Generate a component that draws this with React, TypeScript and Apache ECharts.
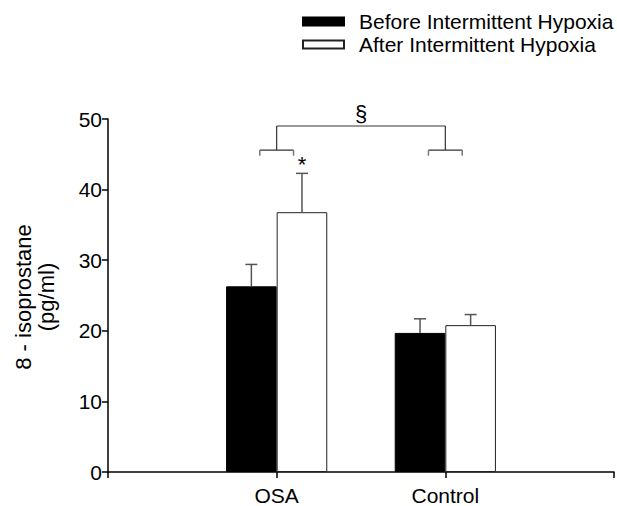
import React, { useEffect, useRef } from "react";
import * as echarts from "echarts";

const categories = ["", "OSA", "Control", ""];
const seriesNames = ["Before Intermittent Hypoxia", "After Intermittent Hypoxia"];
const beforeMeans = [null, 26.3, 19.7, null];
const beforeErr = [null, 3.1, 2.0, null];
const afterMeans = [null, 36.8, 20.8, null];
const afterErr = [null, 5.5, 1.5, null];
const yTicks = { min: 0, max: 50, interval: 10 };
// bracket annotation (data units): groups compared, levels
const bracketGroups = [1, 2];
const bracketTop = 49;
const bracketMid = 45.6;
const bracketLow = 44.8;
const starValue = { x: 1, y: 43.6 };
const sectionValue = 50.8;

const FONT = "'Liberation Sans', Arial, sans-serif";

export default function App() {
  const ref = useRef<HTMLDivElement>(null);
  useEffect(() => {
    if (!ref.current) return;
    const chart = echarts.init(ref.current, undefined, { renderer: "svg" });

    const errData = (means: (number | null)[], errs: (number | null)[]) =>
      means
        .map((m, i) => (m == null ? null : [i, m, errs[i] as number]))
        .filter((d) => d != null);

    const errSeries = (name: string, means: any, errs: any, side: number) => ({
      type: "custom",
      name: name + "_err",
      z: 3,
      renderItem: (params: any, api: any) => {
        const x = api.value(0);
        const m = api.value(1);
        const e = api.value(2);
        const bw = api.size([1, 0])[0];
        const off = side * bw * 0.15;
        const base = api.coord([x, m]);
        const top = api.coord([x, m + e]);
        const cap = 6;
        const style = { stroke: "#555", lineWidth: 1.5 };
        return {
          type: "group",
          children: [
            { type: "line", shape: { x1: base[0] + off, y1: base[1], x2: top[0] + off, y2: top[1] }, style },
            { type: "line", shape: { x1: top[0] + off - cap, y1: top[1], x2: top[0] + off + cap, y2: top[1] }, style },
          ],
        };
      },
      data: errData(means, errs),
      silent: true,
    });

    const bracketSeries = {
      type: "custom",
      name: "brackets",
      z: 4,
      silent: true,
      renderItem: (params: any, api: any) => {
        if (params.dataIndex !== 0) return null;
        const bw = api.size([1, 0])[0];
        const a = api.coord([bracketGroups[0], bracketTop]);
        const b = api.coord([bracketGroups[1], bracketTop]);
        const mid = api.coord([bracketGroups[0], bracketMid])[1];
        const low = api.coord([bracketGroups[0], bracketLow])[1];
        const secY = api.coord([bracketGroups[0], sectionValue])[1];
        const hw = bw * 0.1;
        const dark = { stroke: "#333", lineWidth: 1.2 };
        const gray = { stroke: "#777", lineWidth: 1.5 };
        const children: any[] = [
          { type: "line", shape: { x1: a[0], y1: a[1], x2: b[0], y2: b[1] }, style: gray },
          { type: "line", shape: { x1: a[0], y1: a[1], x2: a[0], y2: mid }, style: dark },
          { type: "line", shape: { x1: b[0], y1: b[1], x2: b[0], y2: mid }, style: dark },
        ];
        [a[0], b[0]].forEach((cx) => {
          children.push(
            { type: "line", shape: { x1: cx - hw, y1: mid, x2: cx + hw, y2: mid }, style: dark },
            { type: "line", shape: { x1: cx - hw, y1: mid, x2: cx - hw, y2: low }, style: gray },
            { type: "line", shape: { x1: cx + hw, y1: mid, x2: cx + hw, y2: low }, style: gray }
          );
        });
        children.push({
          type: "text",
          x: (a[0] + b[0]) / 2,
          y: secY,
          style: { text: "§", fontSize: 22, fontFamily: FONT, fill: "#000", align: "center", verticalAlign: "middle" },
        });
        const st = api.coord([starValue.x, starValue.y]);
        children.push({
          type: "text",
          x: st[0] + bw * 0.15,
          y: st[1],
          style: { text: "*", fontSize: 22, fontFamily: FONT, fill: "#000", align: "center", verticalAlign: "middle" },
        });
        return { type: "group", children };
      },
      data: [[0, 0]],
    };

    chart.setOption({
      animation: false,
      backgroundColor: "#fff",
      textStyle: { fontFamily: FONT },
      legend: {
        orient: "vertical",
        left: 302,
        top: 11,
        padding: 0,
        icon: "rect",
        itemWidth: 41,
        itemHeight: 8,
        itemGap: 2,
        selectedMode: false,
        data: seriesNames,
        textStyle: { fontSize: 21, color: "#000", fontFamily: FONT, padding: [0, 0, 0, 10] },
      },
      grid: { left: 108, right: 1, top: 119, bottom: 32, containLabel: false },
      xAxis: {
        type: "category",
        data: categories,
        boundaryGap: false,
        axisLine: { lineStyle: { color: "#000", width: 1.5 } },
        axisTick: { show: true, length: 6, interval: 0, lineStyle: { color: "#000", width: 1.5 } },
        axisLabel: { fontSize: 21, color: "#000", margin: 13, fontFamily: FONT, interval: 0 },
        splitLine: { show: false },
      },
      yAxis: {
        type: "value",
        min: yTicks.min,
        max: yTicks.max,
        interval: yTicks.interval,
        axisLine: { show: true, lineStyle: { color: "#000", width: 1.5 } },
        axisTick: { show: true, length: 6, lineStyle: { color: "#000", width: 1.5 } },
        axisLabel: { fontSize: 21, color: "#000", margin: 6, fontFamily: FONT },
        splitLine: { show: false },
      },
      graphic: [
        {
          type: "text",
          x: 35,
          y: 297,
          rotation: Math.PI / 2,
          style: {
            text: "8 - isoprostane\n(pg/ml)",
            fontSize: 22,
            lineHeight: 23,
            fontFamily: FONT,
            fill: "#000",
            align: "center",
            verticalAlign: "middle",
          },
        },
      ],
      series: [
        {
          type: "bar",
          name: seriesNames[0],
          data: beforeMeans,
          barWidth: "30%",
          barGap: "0%",
          itemStyle: { color: "#000", borderColor: "#000", borderWidth: 1 },
          z: 2,
        },
        {
          type: "bar",
          name: seriesNames[1],
          data: afterMeans,
          barWidth: "30%",
          barGap: "0%",
          itemStyle: { color: "#fff", borderColor: "#222", borderWidth: 1 },
          z: 2,
        },
        errSeries(seriesNames[0], beforeMeans, beforeErr, -1),
        errSeries(seriesNames[1], afterMeans, afterErr, 1),
        bracketSeries,
      ],
    });
    return () => chart.dispose();
  }, []);
  return (
    <div
      ref={ref}
      style={{ position: "absolute", left: 0, top: 0, width: 617, height: 506 }}
    />
  );
}
